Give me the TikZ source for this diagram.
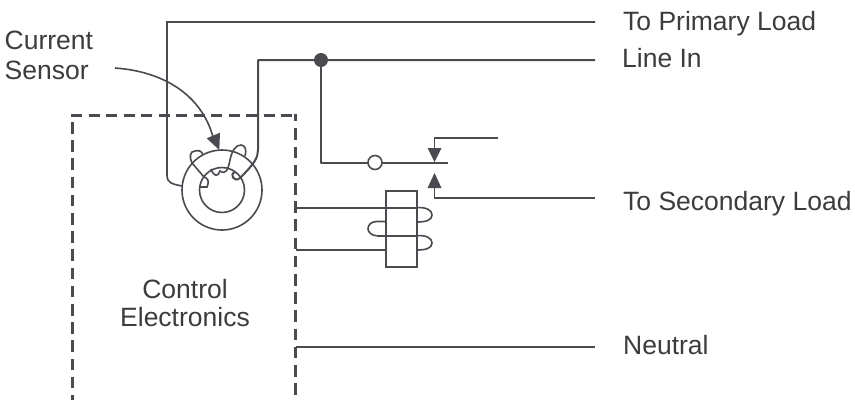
\documentclass[tikz,border=0pt]{standalone}
\usepackage{fontspec}
\setmainfont{Liberation Sans}
\definecolor{ink}{HTML}{4A4A50}
\definecolor{txt}{HTML}{3C3C3E}
\tikzset{
  wire/.style={draw=ink,line width=2pt,line join=round},
  thin wire/.style={draw=ink,line width=1.6pt},
  boxdash/.style={draw=ink,line width=3pt,dash pattern=on 11.5pt off 6.7pt},
  topdash/.style={draw=ink,line width=3pt,dash pattern=on 11pt off 6.5pt},
  label/.style={text=txt,font=\fontsize{26.5}{28}\selectfont,inner sep=0pt,anchor=base west},
  tri/.style={fill=ink,draw=none},
}
\begin{document}
\begin{tikzpicture}[x=1pt,y=-1pt]
\useasboundingbox (0,0) rectangle (855,400);
% coordinates
\coordinate (pl) at (595,22);
\coordinate (li) at (595,60);
\coordinate (sl) at (595,198);
\coordinate (ne) at (595,347);
\coordinate (dot) at (321,60);
\coordinate (sw) at (321,162.5);
\coordinate (cc) at (222,190);
% dashed box
\draw[topdash] (71,115.3) -- (297,115.3);
\draw[boxdash] (72.5,122) -- (72.5,400);
\draw[boxdash,dash phase=0pt] (295.5,128.4) -- (295.5,400);
\draw[draw=ink,line width=3pt] (295.5,114) -- (295.5,121);
% wires
\draw[thin wire] (pl) -- (167,22) -- (167,175) .. controls (167,183) and (172,184) .. (182,186);
\draw[wire] (li) -- (258,60) -- (258,150) .. controls (258,158) and (254,164) .. (240,178)
  .. controls (234,183) and (229,174) .. (235,172);
\draw[wire] (dot) -- (sw) -- (368,162.5);
\draw[wire] (382,162.5) -- (448,162.5);
\node[circle,draw=ink,line width=1.6pt,minimum size=14pt,inner sep=0pt,fill=white] (sc) at (375,162.5) {};
% switch contacts
\coordinate (t1) at (498,138);
\coordinate (t2) at (434.5,138);
\draw[thin wire] (t1) -- (t2) -- (434.5,150);
\fill[tri] (434.5,162) -- (427.5,148) -- (441.5,148) -- cycle;
\draw[thin wire] (sl) -- (434.5,198) -- (434.5,186);
\fill[tri] (434.5,173) -- (427.5,188) -- (441.5,188) -- cycle;
\fill[ink] (dot) circle (7);
% sensor
\node[circle,draw=ink,line width=1.6pt,minimum size=80pt,inner sep=0pt] (ringa) at (cc) {};
\node[circle,draw=ink,line width=1.6pt,minimum size=45pt,inner sep=0pt] (ringb) at (cc) {};
% windings in sensor
\draw[thin wire] (200,187) -- (207,187) .. controls (210,180) and (207,178) .. (204,177)
  -- (192,163) .. controls (189,157) and (190,151) .. (195,151) .. controls (199,150) and (202,151) .. (203,155);
\draw[thin wire] (211,169) .. controls (214,177) and (218,177) .. (220,171)
  .. controls (226,175) and (228,170) .. (230,160) .. controls (232,150) and (236,145) .. (241,145)
  .. controls (245,145) and (247,150) .. (245,156);
% current sensor arrow
\draw[thin wire] (115,68) .. controls (170,72) and (203,100) .. (213,137);
\fill[tri] (219.3,150) -- (206.7,138.3) -- (220,132.7) -- cycle;
% relay
\node[rectangle,draw=ink,line width=1.6pt,minimum width=31.5pt,minimum height=76.5pt,inner sep=0pt] (rl) at (401.5,229) {};
\draw[wire] (296,207.7) -- (417.3,207.7);
\draw[thin wire] (296,249.7) -- (385.7,249.7);
\draw[wire] (377,235.7) -- (417.3,235.7);
\draw[thin wire] (417.3,207.7) .. controls (426,207) and (432,210) .. (432,215) .. controls (432,220) and (426,222) .. (417.3,222);
\draw[thin wire] (417.3,235.7) .. controls (426,235) and (432,238) .. (432,243) .. controls (432,248) and (426,250) .. (417.3,250);
\draw[thin wire] (385.7,221.5) -- (377,221.5) .. controls (371,221.5) and (368,225) .. (368,229) .. controls (368,232) and (372,236) .. (377,235.7);
\draw[thin wire] (296,347) -- (ne);
% labels
\node[label] (l1) at (623,30.7) {To Primary Load};
\node[label] (l2) at (622,67.3) {Line In};
\node[label] (l3) at (623,210.7) {To Secondary Load};
\node[label] (l4) at (623,354) {Neutral};
\node[label] (l5) at (4.5,49) {Current};
\node[label] (l6) at (4.5,79.3) {Sensor};
\node[label,anchor=base] (l7) at (185,298) {Control};
\node[label,anchor=base] (l8) at (185,326.7) {Electronics};
\end{tikzpicture}
\end{document}
